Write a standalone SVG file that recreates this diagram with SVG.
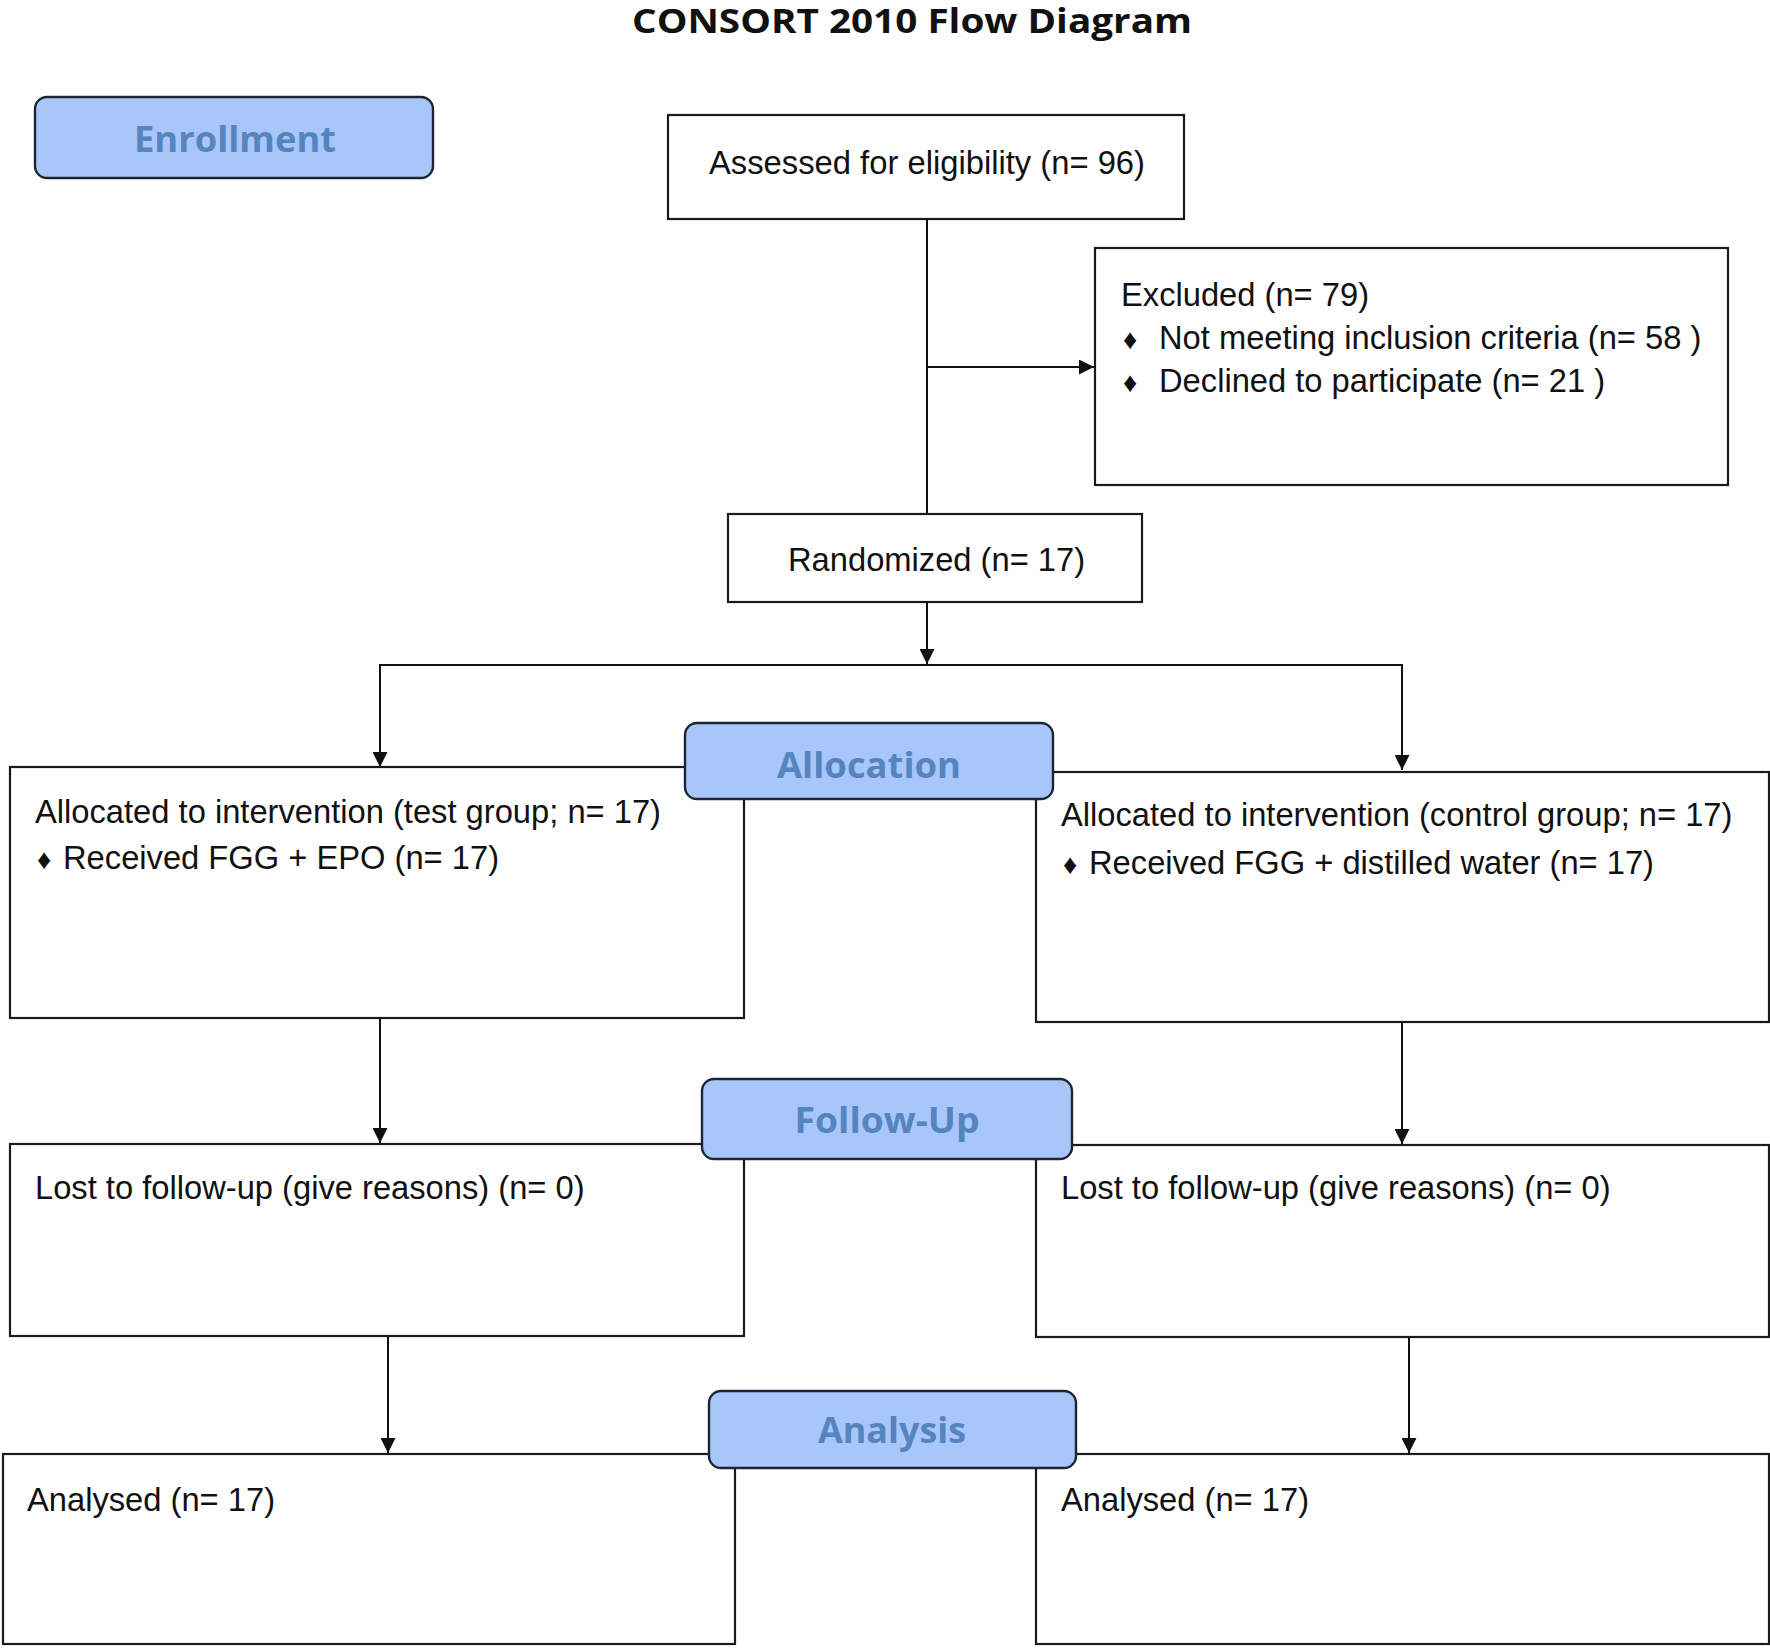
<svg xmlns="http://www.w3.org/2000/svg" width="1770" height="1649" viewBox="0 0 1770 1649">
<style>
.box{fill:#fff;stroke:#1a1a1a;stroke-width:2.2}
.lbl{fill:#a8c6fa;stroke:#1c2533;stroke-width:2.4}
.lt{font-family:"Open Sans","Liberation Sans",sans-serif;font-weight:bold;font-size:35px;fill:#5584bf;text-anchor:middle}
.t{font-family:"Liberation Sans",Arial,sans-serif;font-size:32.7px;fill:#111}
.b{font-family:"Liberation Sans",Arial,sans-serif;font-size:28px;fill:#111}
.c{stroke:#111;stroke-width:2;fill:none}
</style>
<defs>
<marker id="ah2" viewBox="0 0 10 10" refX="10" refY="5" markerWidth="20" markerHeight="15" markerUnits="userSpaceOnUse" orient="auto">
<path d="M0,0 L10,5 L0,10 z" fill="#111"/>
</marker>
</defs>
<rect width="1770" height="1649" fill="#fff"/>
<text x="912" y="33" font-family="'Open Sans','Liberation Sans',sans-serif" font-weight="bold" font-size="34" text-anchor="middle" textLength="560" lengthAdjust="spacingAndGlyphs" fill="#111">CONSORT 2010 Flow Diagram</text>

<g id="connectors">
<line class="c" x1="927" y1="219" x2="927" y2="514"/>
<line class="c" x1="927" y1="367" x2="1094" y2="367" marker-end="url(#ah2)"/>
<line class="c" x1="927" y1="602" x2="927" y2="664" marker-end="url(#ah2)"/>
<polyline class="c" points="380,710 380,665 1402,665 1402,710"/>
<line class="c" x1="380" y1="700" x2="380" y2="767" marker-end="url(#ah2)"/>
<line class="c" x1="1402" y1="700" x2="1402" y2="770" marker-end="url(#ah2)"/>
<line class="c" x1="380" y1="1018" x2="380" y2="1143" marker-end="url(#ah2)"/>
<line class="c" x1="1402" y1="1022" x2="1402" y2="1144" marker-end="url(#ah2)"/>
<line class="c" x1="388" y1="1336" x2="388" y2="1453" marker-end="url(#ah2)"/>
<line class="c" x1="1409" y1="1337" x2="1409" y2="1453" marker-end="url(#ah2)"/>
</g>

<g id="enrollment">
<rect class="lbl" x="35" y="97" width="398" height="81" rx="12"/>
<text class="lt" x="235" y="152" textLength="202" lengthAdjust="spacingAndGlyphs">Enrollment</text>
</g>

<g id="assessed">
<rect class="box" x="668" y="115" width="516" height="104"/>
<text class="t" x="709" y="174" textLength="436" lengthAdjust="spacingAndGlyphs">Assessed for eligibility (n= 96)</text>
</g>

<g id="excluded">
<rect class="box" x="1095" y="248" width="633" height="237"/>
<text class="t" x="1121" y="306">Excluded (n= 79)</text>
<text class="b" x="1123" y="349">♦</text>
<text class="t" x="1159" y="349">Not meeting inclusion criteria (n= 58 )</text>
<text class="b" x="1123" y="392">♦</text>
<text class="t" x="1159" y="392">Declined to participate (n= 21 )</text>
</g>

<g id="randomized">
<rect class="box" x="728" y="514" width="414" height="88"/>
<text class="t" x="788" y="571">Randomized (n= 17)</text>
</g>

<g id="alloc-left">
<rect class="box" x="10" y="767" width="734" height="251"/>
<text class="t" x="35" y="823">Allocated to intervention (test group; n= 17)</text>
<text class="b" x="37" y="869">♦</text>
<text class="t" x="63" y="869">Received FGG + EPO (n= 17)</text>
</g>

<g id="alloc-right">
<rect class="box" x="1036" y="772" width="733" height="250"/>
<text class="t" x="1061" y="826">Allocated to intervention (control group; n= 17)</text>
<text class="b" x="1063" y="874">♦</text>
<text class="t" x="1089" y="874">Received FGG + distilled water (n= 17)</text>
</g>

<g id="allocation">
<rect class="lbl" x="685" y="723" width="368" height="76" rx="12"/>
<text class="lt" x="869" y="778" textLength="184" lengthAdjust="spacingAndGlyphs">Allocation</text>
</g>

<g id="follow-left">
<rect class="box" x="10" y="1144" width="734" height="192"/>
<text class="t" x="35" y="1199">Lost to follow-up (give reasons) (n= 0)</text>
</g>

<g id="follow-right">
<rect class="box" x="1036" y="1145" width="733" height="192"/>
<text class="t" x="1061" y="1199">Lost to follow-up (give reasons) (n= 0)</text>
</g>

<g id="followup">
<rect class="lbl" x="702" y="1079" width="370" height="80" rx="12"/>
<text class="lt" x="887" y="1133" textLength="185" lengthAdjust="spacingAndGlyphs">Follow-Up</text>
</g>

<g id="analysed-left">
<rect class="box" x="3" y="1454" width="732" height="190"/>
<text class="t" x="27" y="1511">Analysed (n= 17)</text>
</g>

<g id="analysed-right">
<rect class="box" x="1036" y="1454" width="733" height="190"/>
<text class="t" x="1061" y="1511">Analysed (n= 17)</text>
</g>

<g id="analysis">
<rect class="lbl" x="709" y="1391" width="367" height="77" rx="12"/>
<text class="lt" x="892" y="1443" textLength="148" lengthAdjust="spacingAndGlyphs">Analysis</text>
</g>
</svg>
